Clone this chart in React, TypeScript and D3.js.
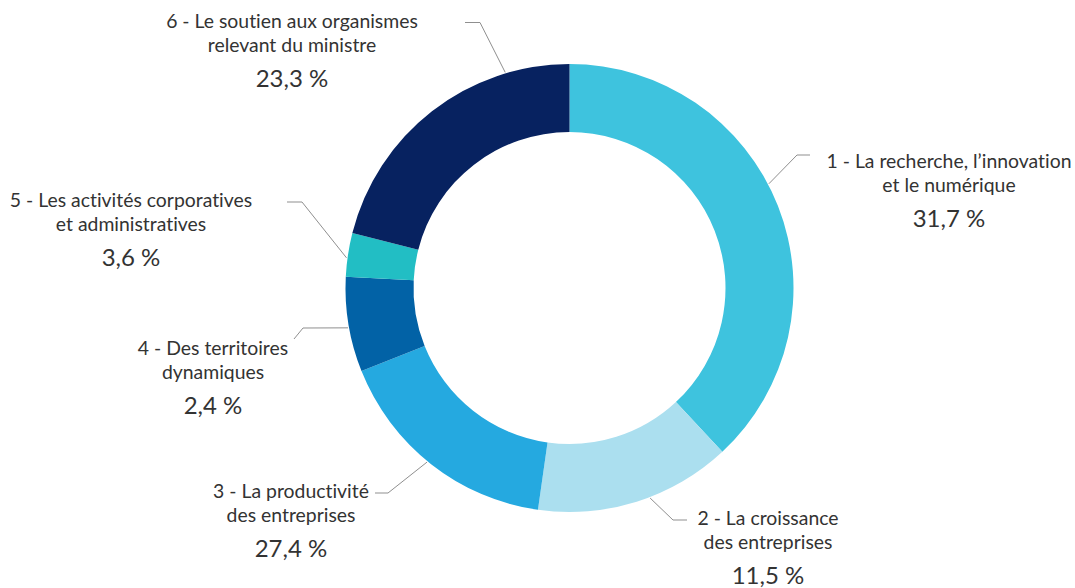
import React from "react";
import * as d3 from "d3";

// ---- data ----
const categories = [
  ["1 - La recherche, l\u2019innovation", "et le numérique"],
  ["2 - La croissance", "des entreprises"],
  ["3 - La productivité", "des entreprises"],
  ["4 - Des territoires", "dynamiques"],
  ["5 - Les activités corporatives", "et administratives"],
  ["6 - Le soutien aux organismes", "relevant du ministre"],
];
// slice shares as drawn in the picture
const sliceShares = [38.05, 14.2, 16.7, 6.85, 3.15, 21.05];
// percentages printed on the labels
const pctLabels = ["31,7 %", "11,5 %", "27,4 %", "2,4 %", "3,6 %", "23,3 %"];
const colors = ["#3EC3DE", "#ABDFEF", "#25A9E0", "#0262A6", "#22BEC4", "#072260"];

// ---- layout (annotation placement) ----
const W = 1075;
const H = 588;
const CX = 569.5;
const CY = 288;
const R_OUT = 224;
const R_IN = 156;
// label centre x, first baseline y, leader elbow / end, leader angle on ring (deg)
const labelLayout = [
  { x: 949, y: 168, ex: 810, ey: 155, hx: 797, ang: 62.4 },
  { x: 768, y: 525, ex: 687, ey: 520, hx: 673, ang: 159 },
  { x: 291, y: 498, ex: 375, ey: 493, hx: 388, ang: 219.3 },
  { x: 213, y: 355, ex: 294, ey: 339, hx: 303, hy: 328, ang: 259.8 },
  { x: 131, y: 207, ex: 287, ey: 202, hx: 302, ang: 277.7 },
  { x: 292, y: 28, ex: 465, ey: 22.5, hx: 480, ang: 343.4 },
];

export default function App() {
  const pie = d3
    .pie<number>()
    .sort(null)
    .value((d) => d)
    .startAngle(0)
    .endAngle(2 * Math.PI);
  const arcs = pie(sliceShares);
  const arc = d3
    .arc<d3.PieArcDatum<number>>()
    .innerRadius(R_IN)
    .outerRadius(R_OUT);

  const font = "Lato, 'Noto Sans', sans-serif";
  const line = d3.line();

  return (
    <div style={{ position: "absolute", left: 0, top: 0 }}>
      <svg width={W} height={H} style={{ display: "block", background: "#fff" }}>
        <g transform={`translate(${CX},${CY})`}>
          {arcs.map((a, i) => (
            <path key={i} d={arc(a) || ""} fill={colors[i]} />
          ))}
        </g>
        {labelLayout.map((l, i) => {
          const t = (l.ang * Math.PI) / 180;
          const px = CX + (R_OUT + 1) * Math.sin(t);
          const py = CY - (R_OUT + 1) * Math.cos(t);
          const hy = l.hy !== undefined ? l.hy : l.ey;
          const pts: [number, number][] = [
            [l.ex, l.ey],
            [l.hx, hy],
            [px, py],
          ];
          return (
            <path
              key={"l" + i}
              d={line(pts) || ""}
              fill="none"
              stroke="#8f8f8f"
              strokeWidth={1}
            />
          );
        })}
        {labelLayout.map((l, i) => (
          <g
            key={"t" + i}
            fill="#333"
            fontFamily={font}
            textAnchor="middle"
            style={{ fontVariantLigatures: "none", fontFeatureSettings: "'liga' 0, 'dlig' 0" }}
          >
            <text x={l.x} y={l.y} fontSize={19.4}>
              {categories[i][0]}
            </text>
            <text x={l.x} y={l.y + 24} fontSize={19.4}>
              {categories[i][1]}
            </text>
            <text x={l.x} y={l.y + 59} fontSize={24}>
              {pctLabels[i]}
            </text>
          </g>
        ))}
      </svg>
    </div>
  );
}
